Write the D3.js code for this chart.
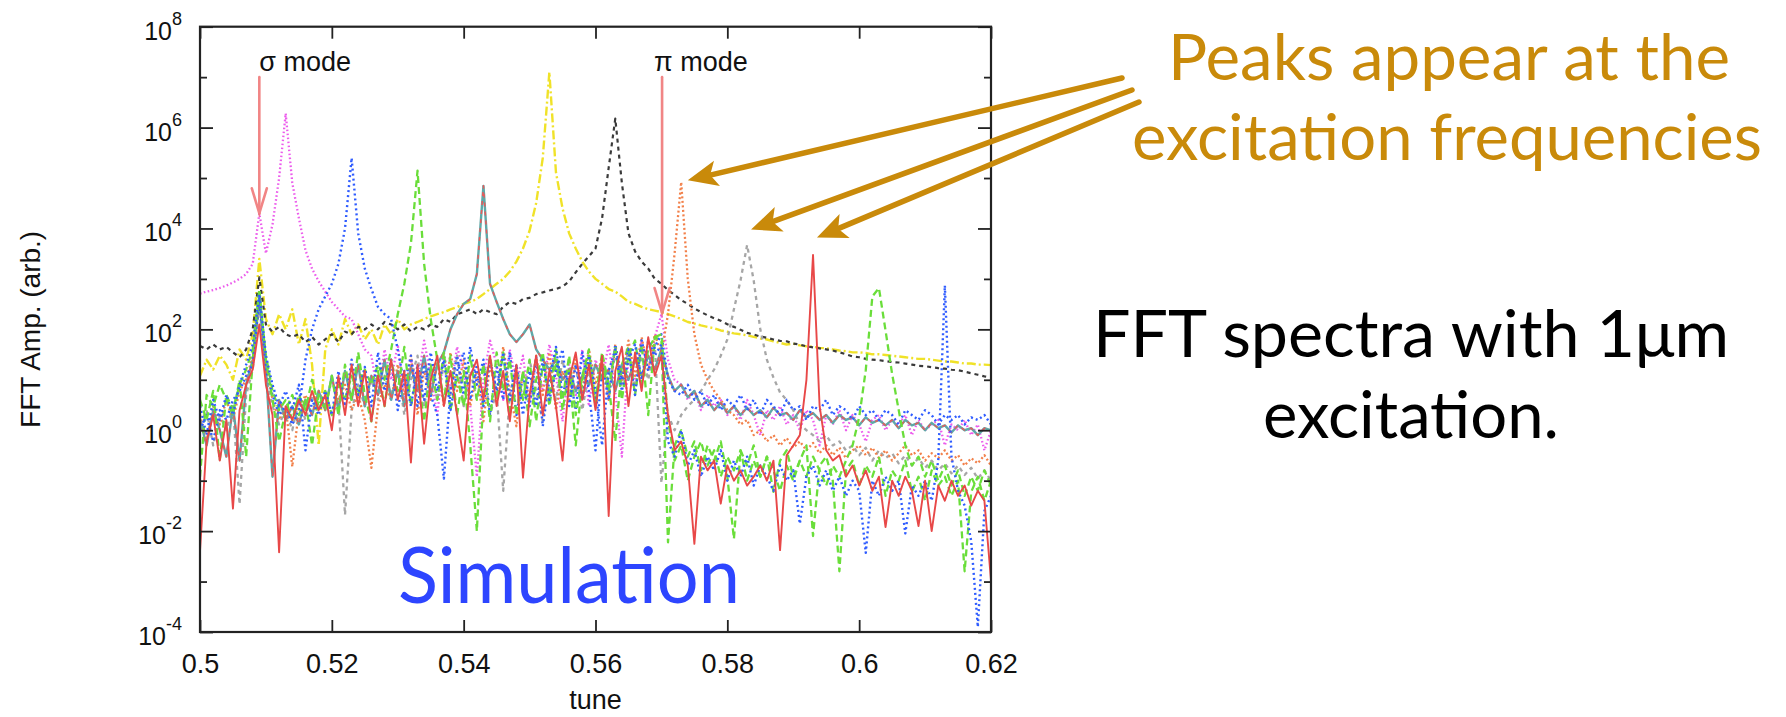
<!DOCTYPE html>
<html>
<head>
<meta charset="utf-8">
<script src="https://cdn.jsdelivr.net/npm/d3@7"></script>
<style>
html,body{margin:0;padding:0;background:#ffffff;}
svg{display:block;}
</style>
</head>
<body>
<svg id="chart" width="1786" height="717"></svg>
<script>
// ---------------- DATA ----------------
// tune sampling grid (x)
const tune = [
0.500,0.501,0.502,0.503,0.504,0.505,0.506,0.507,0.508,0.509,
0.510,0.511,0.512,0.513,0.514,0.515,0.516,0.517,0.518,0.519,
0.520,0.521,0.522,0.523,0.524,0.525,0.526,0.527,0.528,0.529,
0.530,0.531,0.532,0.533,0.534,0.535,0.536,0.537,0.538,0.539,
0.540,0.541,0.542,0.543,0.544,0.545,0.546,0.547,0.548,0.549,
0.550,0.551,0.552,0.553,0.554,0.555,0.556,0.557,0.558,0.559,
0.560,0.561,0.562,0.563,0.564,0.565,0.566,0.567,0.568,0.569,
0.570,0.571,0.572,0.573,0.574,0.575,0.576,0.577,0.578,0.579,
0.580,0.581,0.582,0.583,0.584,0.585,0.586,0.587,0.588,0.589,
0.590,0.591,0.592,0.593,0.594,0.595,0.596,0.597,0.598,0.599,
0.600,0.601,0.602,0.603,0.604,0.605,0.606,0.607,0.608,0.609,
0.610,0.611,0.612,0.613,0.614,0.615,0.616,0.617,0.618,0.619,
0.620];

// FFT amplitude (arb.) of each excitation run
const amp513 = [ // magenta dotted
510,560,600,660,740,850,1000,1250,2000,20000,
3200,12000,1e5,1.9e6,8e4,1.6e4,3700,1600,900,560,
350,250,180,160,80,40,30,5,40,10,
50,4,25,8,60,12,2,35,6,45,
15,3,0.12,10,60,20,4,40,8,30,
3,25,6,50,12,1.5,20,5,40,3,
25,10,50,6,0.3,30,8,60,16,70,
200,25,10,8,4,6,2.5,5,3,4,
2,3,1.6,4,2,0.8,2.5,1.6,3,1.3,
2,1,2.5,1.6,0.5,2,1.3,2.5,1,2,
1.3,0.6,1.6,2,1,1.6,1.3,2,0.8,1.6,
1,1.3,1.6,0.5,1.3,1,1.6,0.8,1.3,0.4,
1];
const amp523 = [ // blue dotted
1,2,0.6,2.5,1.6,4,6,12,20,400,
16,5,2,3,1.3,2.5,25,100,250,450,
800,2000,1e4,2.5e5,8000,1600,630,280,200,160,
40,8,30,3,20,5,2,0.11,6,30,
5,45,8,25,2,18,4,35,2,12,
3,28,1.2,10,45,5,15,2.5,35,6,
0.4,20,4,50,10,40,5,60,15,45,
80,10,6,5,8,4,6,3,5,2.5,
4,3,5,2.5,4,2,4,3,2,4,
2.5,3,1.6,3,2.5,4,2,3,2.5,1.6,
3,2,2.5,1.6,2.5,2,1.3,2.5,2,1.6,
2.5,2,1.3,2,1.6,2,1.3,1.8,1.6,2,
1.3];
const amp533 = [ // green dashed
0.12,5,3,8,4,2,10,0.3,25,500,
30,6,2.5,4,1.6,5,2.5,10,3,6,
2,8,4,12,5,16,8,20,10,40,
200,800,5000,1.4e5,2000,160,25,4,30,2,
15,0.5,0.01,5,30,4,35,2,15,4,
25,1.5,20,5,40,2.5,15,0.5,10,30,
4,35,8,0.6,20,45,5,50,2,70,
60,0.006,0.5,1,0.3,0.6,0.16,0.5,0.25,0.6,
0.12,0.007,0.4,0.2,0.5,0.12,0.3,0.06,0.25,0.4,
0.12,0.25,0.5,0.008,0.2,0.3,0.1,0.0016,0.16,0.25,
0.08,0.2,0.12,0.3,0.05,0.16,0.1,0.25,0.06,0.12,
0.04,0.16,0.08,0.12,0.05,0.1,0.0016,0.06,0.12,0.04,
0.1];
const amp543 = [ // teal solid (red-dashed overlay)
1.6,0.5,2.5,1,0.3,3,0.25,8,25,400,
16,0.12,4,1.6,3,1.3,4,2,6,2.5,
12,2.5,15,4,20,3,12,5,25,4,
15,3,18,6,30,5,20,35,100,200,
320,400,1250,7e4,800,350,160,80,56,80,
125,40,25,16,25,10,16,6,12,8,
20,10,16,6,20,10,25,12,30,16,
40,12,6,8,4.5,6,3,4,2.5,3.5,
2.2,3,2,2.8,2,2.5,1.8,2.8,2,2.2,
1.6,2.5,1.8,2.2,1.6,2,1.4,2,1.6,1.8,
1.25,1.8,1.4,1.6,1.25,1.6,1.1,1.6,1.25,1.4,
1,1.4,1.1,1.25,0.9,1.25,1,1.1,0.8,1.1,
1];
const amp553 = [ // yellow dash-dot
12,25,16,30,20,10,40,25,80,2500,
160,80,200,100,250,50,160,20,0.5,40,
100,50,160,80,125,63,100,50,125,80,
160,100,125,140,160,180,200,220,250,275,
320,350,400,500,630,800,1000,1400,2200,4000,
9000,3.2e4,2.5e5,1.26e7,1.3e5,2.5e4,8000,4000,2200,1400,
1000,800,630,560,450,350,320,280,250,235,
220,200,180,160,140,130,120,112,105,95,
90,83,80,76,71,66,63,58,54,50,
52,48,46,45,43,42,40,38,37,35,
35,34,32,32,31,30,29,28,27,26,
26,25,24,23,23,22,21,21,20,20,
19.5];
const amp563 = [ // black dashed
47,40,50,40,45,35,28,40,100,1070,
125,90,112,80,71,80,56,71,50,63,
80,56,90,80,112,100,125,100,140,125,
100,125,90,112,100,125,112,160,140,200,
220,250,200,250,220,200,280,350,320,400,
420,500,540,590,630,710,890,1350,2000,2800,
4000,16000,1.6e5,1.5e6,8e4,8000,3500,2200,1600,1000,
800,600,480,380,320,260,220,190,166,148,
126,112,98,85,79,72,68,63,59,58,
52,50,46,44,42,40,38,35,32,29,
28,26,25,24.5,23.5,22.4,22,21,20,19,
18.6,17.8,17,16.6,15.8,15.5,14.5,13.5,12.6,11.7,
11.2];
const amp573 = [ // orange dotted
2,0.6,3,1.3,4,1.6,6,10,30,320,
20,4,1.6,3,0.19,2.5,5,2,6,3,
10,4,8,2.5,5,1.6,0.18,3,8,4,
20,5,30,2,15,4,25,3,35,6,
25,3,15,1.5,20,5,45,6,1.2,15,
4,30,5,35,2.5,15,4,25,6,40,
8,30,4,50,10,60,12,70,15,80,
33,200,3200,8.3e4,1000,80,20,10,6,4,
2.5,2,1.3,1.6,0.8,1,0.6,0.8,0.5,0.7,
0.45,0.6,0.4,0.56,0.35,0.5,0.32,0.45,0.28,0.4,
0.5,0.32,0.45,0.28,0.4,0.25,0.35,0.5,0.32,0.4,
0.25,0.35,0.28,0.4,0.25,0.32,0.2,0.28,0.22,0.32,
0.2];
const amp583 = [ // grey dashed
1.3,2.5,0.5,2,1,3,0.034,5,16,320,
12,3,1.3,2.5,1,4,1.6,5,2.5,6,
2,4,0.021,2.5,8,3,10,4,12,5,
15,2,10,30,3,15,4,20,5,30,
3,15,4,20,2,6,0.063,5,20,4,
25,6,1.5,15,4,25,5,20,2.5,15,
4,25,6,35,8,40,6,30,10,50,
0.09,2,1,2,3,4,6,10,16,30,
63,250,930,4700,930,100,25,11,5.6,4,
2.5,1.3,1,0.8,0.6,0.8,0.5,0.6,0.4,0.5,
0.32,0.45,0.25,0.4,0.28,0.35,0.22,0.32,0.2,0.28,
0.18,0.25,0.16,0.22,0.14,0.2,0.13,0.18,0.11,0.16,
0.1];
const amp593 = [ // red solid
0.004,0.6,2,0.25,1.6,0.028,2.5,8,16,125,
8,2,0.0038,3,1.6,4,2,6,2.5,5,
1,12,2,20,3,15,1.5,12,3,25,
4,15,0.23,20,0.54,10,30,3,15,2,
0.25,12,25,4,30,3,15,1.5,20,0.115,
5,30,2,15,3,0.25,10,35,4,20,
2.5,30,0.02,15,45,3,35,6,70,12,
30,2,0.4,0.6,0.2,0.0056,0.3,0.16,0.25,0.035,
0.2,0.1,0.16,0.08,0.12,0.2,0.1,0.25,0.0042,0.32,
0.5,0.8,10,3000,3,0.4,0.25,0.32,0.12,0.2,
0.08,0.16,0.063,0.12,0.012,0.1,0.05,0.12,0.063,0.0126,
0.1,0.01,0.08,0.04,0.1,0.05,0.08,0.032,0.063,0.04,
0.00105];
const amp603 = [ // green dashed
4,1.6,6,0.25,5,2.5,8,16,40,630,
25,4,0.6,2.5,5,2,4,0.5,5,2.5,
12,2,20,4,35,5,1.5,15,3,25,
6,45,3,15,1.5,20,4,35,2.5,12,
3,30,4,20,1.5,35,6,25,2,15,
1.2,10,35,3,20,4,30,2,12,40,
3,20,6,45,4,30,60,8,40,70,
80,1.6,0.25,0.5,0.1,0.3,0.6,0.2,0.4,0.12,
0.3,0.16,0.4,0.1,0.25,0.12,0.3,0.16,0.063,0.2,
0.1,0.25,0.12,0.3,0.16,0.08,0.2,0.12,0.25,0.5,
1.8,15.5,450,660,95,13,2.5,0.5,0.2,0.3,
0.12,0.25,0.1,0.2,0.08,0.16,0.05,0.12,0.063,0.16,
0.08];
const amp613 = [ // blue dotted
3,0.8,4,1.6,5,2,8,20,50,500,
30,8,3,6,2.5,8,0.4,4,2,6,
2,15,3,25,5,18,3,35,6,25,
2.5,15,3,20,4,35,6,25,2.5,15,
35,4,20,3,25,6,35,4,20,2,
15,3,25,4,15,40,3,20,4,30,
6,0.5,15,40,6,25,50,10,60,30,
50,0.6,0.3,1,0.2,0.4,0.12,0.3,0.16,0.4,
0.1,0.25,0.12,0.3,0.08,0.2,0.12,0.063,0.2,0.1,
0.16,0.014,0.12,0.2,0.08,0.16,0.063,0.12,0.05,0.1,
0.063,0.0037,0.1,0.05,0.12,0.063,0.1,0.009,0.08,0.05,
0.1,0.04,0.25,740,0.3,0.063,0.032,0.0063,0.000126,0.025,
0.05];

// axis ticks
const xTickValues = [0.5, 0.52, 0.54, 0.56, 0.58, 0.6, 0.62];
const yMajorExponents = [-4, -2, 0, 2, 4, 6, 8];
const yMinorExponents = [-3, -1, 1, 3, 5, 7];

// mode markers (tune, amplitude at arrow tip, amplitude at arrow top)
const modeLabels = ["σ mode", "π mode"];
const modeTunes = [0.509, 0.5701];
const modeTipAmps = [2e4, 210];
const modeTopAmp = 1e7;

// peaks pointed at by the annotation arrows
const pointedTunes = [0.574, 0.5836, 0.5936];
const pointedAmps = [9e4, 9.5e3, 6.6e3];

// ---------------- STYLE ----------------
const series = [
  {values: amp553, color: "#f0e228", width: 2.4, dash: "9,3,2,3"},
  {values: amp563, color: "#3a3a3a", width: 2.2, dash: "4,4"},
  {values: amp513, color: "#ec5cec", width: 2.3, dash: "1.6,2.4"},
  {values: amp583, color: "#a6a6a6", width: 2.3, dash: "4,4"},
  {values: amp573, color: "#f2804a", width: 2.3, dash: "2,2.5"},
  {values: amp543, color: "#5fa8a8", width: 2.4, dash: null, overlay: "#e85a5a"},
  {values: amp533, color: "#6ade3a", width: 2.3, dash: "7,4"},
  {values: amp523, color: "#2f5cff", width: 2.4, dash: "2,3"},
  {values: amp603, color: "#6ade3a", width: 2.3, dash: "7,4"},
  {values: amp613, color: "#2f5cff", width: 2.4, dash: "2,3"},
  {values: amp593, color: "#e84848", width: 1.9, dash: null}
];

const axisFont = '"Liberation Sans", Arial, Helvetica, sans-serif';
const slideFont = 'Lato, "Open Sans", sans-serif';
const gold = "#c98a0a";

// ---------------- CHART ----------------
const M = {left: 200, right: 991, top: 26.7, bottom: 632};
const x = d3.scaleLinear().domain([0.5, 0.62]).range([M.left, M.right]);
const y = d3.scaleLog().domain([1e-4, 1e8]).range([M.bottom, M.top]);

const svg = d3.select("#chart");
svg.append("rect").attr("width", 1786).attr("height", 717).attr("fill", "#fff");

svg.append("defs").append("clipPath").attr("id", "plotclip")
  .append("rect").attr("x", M.left).attr("y", M.top)
  .attr("width", M.right - M.left).attr("height", M.bottom - M.top);

const gLines = svg.append("g").attr("clip-path", "url(#plotclip)");
const line = d3.line().x((d, i) => x(tune[i])).y(d => y(d));

series.forEach(s => {
  gLines.append("path")
    .attr("d", line(s.values))
    .attr("fill", "none")
    .attr("stroke", s.color)
    .attr("stroke-width", s.width)
    .attr("stroke-dasharray", s.dash)
    .attr("stroke-linejoin", "round");
  if (s.overlay) {
    gLines.append("path")
      .attr("d", line(s.values))
      .attr("fill", "none")
      .attr("stroke", s.overlay)
      .attr("stroke-width", 1.5)
      .attr("stroke-dasharray", "4,5")
      .attr("stroke-linejoin", "round");
  }
});

// axes
function styleAxis(g) {
  g.select(".domain").remove();
  g.selectAll("line").attr("stroke", "#222").attr("stroke-width", 1.8);
  g.attr("font-family", axisFont);
}
const yMajor = yMajorExponents.map(e => Math.pow(10, e));
const yMinor = yMinorExponents.map(e => Math.pow(10, e));

const gx = svg.append("g").attr("transform", `translate(0,${M.bottom})`)
  .call(d3.axisBottom(x).tickValues(xTickValues).tickSize(-12).tickFormat(d3.format("")));
styleAxis(gx);
gx.selectAll("text").attr("y", 40.7).attr("dy", 0).attr("font-size", 27).attr("fill", "#111");

svg.append("g").attr("transform", `translate(0,${M.top})`)
  .call(d3.axisTop(x).tickValues(xTickValues).tickSize(-12).tickFormat(""))
  .call(styleAxis);

const gy = svg.append("g").attr("transform", `translate(${M.left},0)`)
  .call(d3.axisLeft(y).tickValues(yMajor).tickSize(-13).tickFormat(""));
styleAxis(gy);
svg.append("g").attr("transform", `translate(${M.left},0)`)
  .call(d3.axisLeft(y).tickValues(yMinor).tickSize(-7).tickFormat(""))
  .call(styleAxis);
svg.append("g").attr("transform", `translate(${M.right},0)`)
  .call(d3.axisRight(y).tickValues(yMajor).tickSize(-13).tickFormat(""))
  .call(styleAxis);
svg.append("g").attr("transform", `translate(${M.right},0)`)
  .call(d3.axisRight(y).tickValues(yMinor).tickSize(-7).tickFormat(""))
  .call(styleAxis);

// y tick labels 10^n
yMajorExponents.forEach(e => {
  const t = svg.append("text")
    .attr("x", 182).attr("y", y(Math.pow(10, e)) + 13)
    .attr("text-anchor", "end")
    .attr("font-family", axisFont).attr("fill", "#111");
  t.append("tspan").attr("font-size", 25).text("10");
  t.append("tspan").attr("font-size", 18).attr("dy", -15).text(String(e));
});

// frame
svg.append("rect")
  .attr("x", M.left).attr("y", M.top)
  .attr("width", M.right - M.left).attr("height", M.bottom - M.top)
  .attr("fill", "none").attr("stroke", "#222").attr("stroke-width", 2.2);

// axis titles
svg.append("text").attr("x", (M.left + M.right) / 2).attr("y", 709)
  .attr("text-anchor", "middle").attr("font-family", axisFont)
  .attr("font-size", 27).attr("fill", "#111").text("tune");
svg.append("text")
  .attr("transform", `translate(40,${(M.top + M.bottom) / 2}) rotate(-90)`)
  .attr("text-anchor", "middle").attr("font-family", axisFont)
  .attr("font-size", 28).attr("fill", "#111").text("FFT Amp. (arb.)");

// mode arrows
const modeLabelDx = [0, -8];
modeLabels.forEach((lab, k) => {
  const mx = x(modeTunes[k]);
  const top = y(modeTopAmp);
  const tip = y(modeTipAmps[k]);
  const g = svg.append("g").attr("stroke", "#f07878").attr("stroke-width", 2.6)
    .attr("fill", "none").attr("stroke-linecap", "round").attr("opacity", 0.9);
  g.append("line").attr("x1", mx).attr("y1", top).attr("x2", mx).attr("y2", tip);
  g.append("polyline").attr("points", `${mx - 7.5},${tip - 25} ${mx},${tip} ${mx + 7.5},${tip - 25}`);
  svg.append("text").attr("x", mx + modeLabelDx[k]).attr("y", top - 6)
    .attr("font-family", axisFont).attr("font-size", 27).attr("fill", "#111").text(lab);
});

// slide annotations
const pkText = svg.append("g").attr("font-family", slideFont).attr("fill", gold)
  .attr("font-size", 64).attr("text-anchor", "middle");
pkText.append("text").attr("x", 1449).attr("y", 80)
  .attr("textLength", 562).attr("lengthAdjust", "spacingAndGlyphs").text("Peaks appear at the");
pkText.append("text").attr("x", 1447).attr("y", 160)
  .attr("textLength", 630).attr("lengthAdjust", "spacingAndGlyphs").text("excitation frequencies");

// golden arrows from the text to the peaks
const arrowStarts = [[1122, 78], [1132, 90], [1139, 102]];
pointedTunes.forEach((t, k) => {
  const tx = x(t), ty = y(pointedAmps[k]);
  const [sx, sy] = arrowStarts[k];
  const dx = tx - sx, dy = ty - sy, len = Math.hypot(dx, dy);
  const ux = dx / len, uy = dy / len, nx = -uy, ny = ux;
  const L = 30, Wd = 13, notch = 7;
  const bx = tx - ux * L, by = ty - uy * L;
  const kx = tx - ux * (L - notch), ky = ty - uy * (L - notch);
  svg.append("line").attr("x1", sx).attr("y1", sy).attr("x2", kx).attr("y2", ky)
    .attr("stroke", gold).attr("stroke-width", 5.5).attr("stroke-linecap", "round");
  svg.append("polygon")
    .attr("points", `${tx},${ty} ${bx + nx * Wd},${by + ny * Wd} ${kx},${ky} ${bx - nx * Wd},${by - ny * Wd}`)
    .attr("fill", gold);
});

const fftText = svg.append("g").attr("font-family", slideFont).attr("fill", "#000")
  .attr("font-size", 65).attr("text-anchor", "middle");
fftText.append("text").attr("x", 1411).attr("y", 357)
  .attr("textLength", 636).attr("lengthAdjust", "spacingAndGlyphs").text("FFT spectra with 1μm");
fftText.append("text").attr("x", 1411).attr("y", 438)
  .attr("textLength", 296).attr("lengthAdjust", "spacingAndGlyphs").text("excitation.");

svg.append("text").attr("x", 569).attr("y", 603)
  .attr("text-anchor", "middle").attr("font-family", slideFont)
  .attr("font-size", 77).attr("fill", "#2d45ff")
  .attr("textLength", 342).attr("lengthAdjust", "spacingAndGlyphs").text("Simulation");
</script>
</body>
</html>
